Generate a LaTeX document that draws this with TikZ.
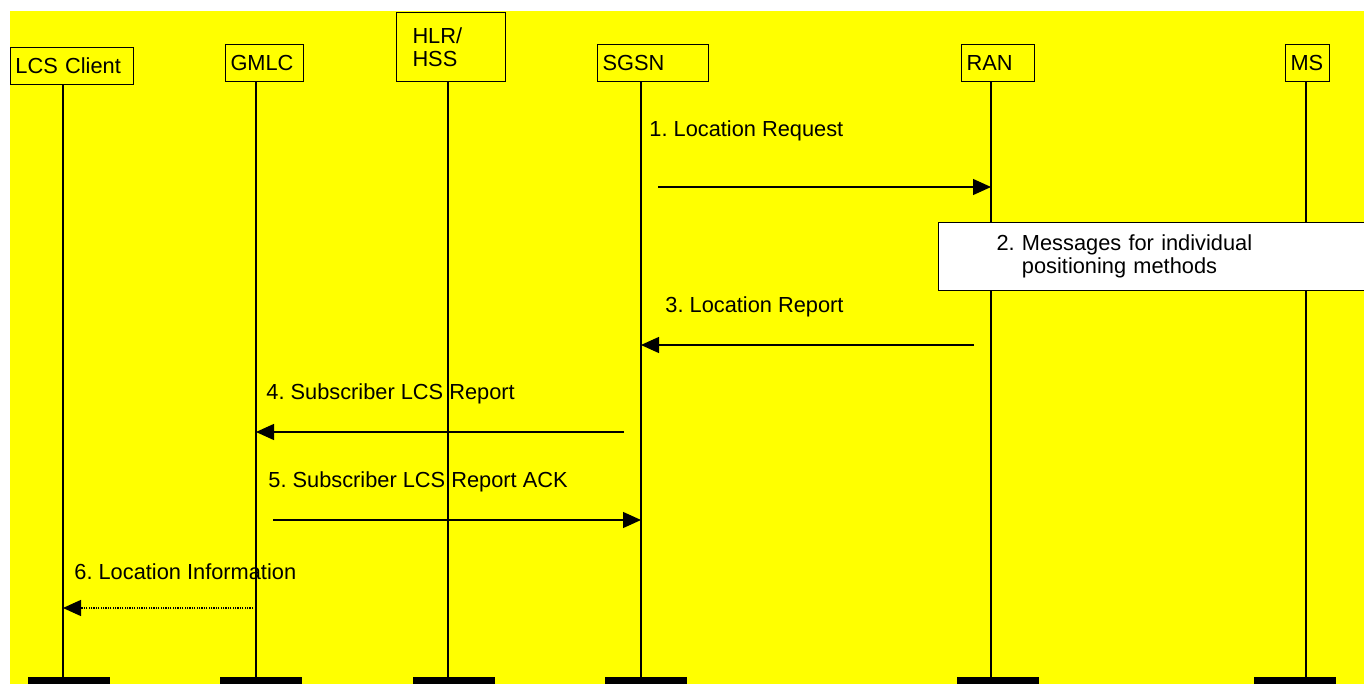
\documentclass[tikz,border=0pt]{standalone}
\usepackage{fontspec}
\setmainfont{Liberation Sans}
\usepackage{tikz}
\usepackage{xcolor}
\usetikzlibrary{arrows.meta}
\definecolor{msyellow}{RGB}{255,255,0}
\tikzset{
  msentity/.style={draw, line width=0.5pt, fill=msyellow, anchor=north west, align=left, inner xsep=2.5pt, minimum height=18.5pt},
  msbar/.style={fill=black, anchor=north west, minimum width=41pt, minimum height=5pt, inner sep=0pt},
  mslife/.style={line width=0.55pt},
  msarr/.style={-{Triangle[length=9pt, width=8pt]}, line width=0.65pt},
  msdot/.style={msarr, dash pattern=on 0.6pt off 0.6pt},
  mslabel/.style={anchor=base west, inner sep=0pt}
}
\frenchspacing

\begin{document}
\begin{tikzpicture}[x=0.5pt, y=-0.5pt, font=\fontsize{10.9}{11.5}\selectfont]
  \useasboundingbox (0,0) rectangle (1364,684);
  \clip (0,0) rectangle (1364,684);
  \fill[msyellow] (10,11) rectangle (1364,684);
  % entities
  \node[msentity, text width=56.5pt] (lcs) at (10,47) {LCS Client};
  \node[msentity, text width=34pt] (gmlc) at (225,44) {GMLC};
  \node[msentity, inner xsep=8pt, text width=38.5pt, minimum height=34.5pt] (hlr) at (396,12) {HLR/\\HSS};
  \node[msentity, text width=50.5pt] (sgsn) at (597,44) {SGSN};
  \node[msentity, text width=31.5pt] (ran) at (961,44) {RAN};
  \node[msentity, text width=17pt] (ms) at (1285,44) {MS};
  % end bars
  \node[msbar] (lcsbar) at (28,677) {};
  \node[msbar] (gmlcbar) at (220,677) {};
  \node[msbar] (hlrbar) at (413,677) {};
  \node[msbar] (sgsnbar) at (605,677) {};
  \node[msbar] (ranbar) at (957,677) {};
  \node[msbar] (msbar) at (1254,677) {};
  % lifelines
  \coordinate (lcsend) at (63,677);
  \coordinate (gmlcend) at (256,677);
  \coordinate (hlrend) at (448,677);
  \coordinate (sgsnend) at (641,677);
  \coordinate (ranend) at (991,677);
  \coordinate (msend) at (1306,677);
  \draw[mslife] (lcsend |- lcs.south) -- (lcsend);
  \draw[mslife] (gmlcend |- gmlc.south) -- (gmlcend);
  \draw[mslife] (hlrend |- hlr.south) -- (hlrend);
  \draw[mslife] (sgsnend |- sgsn.south) -- (sgsnend);
  \draw[mslife] (ranend |- ran.south) -- (ranend);
  \draw[mslife] (msend |- ms.south) -- (msend);
  % positioning box
  \node[msentity, fill=white, inner xsep=29pt, text width=162pt, minimum height=34pt] (posbox) at (938,222) {2.~Messages for individual\\\phantom{2.~}positioning methods};
  % messages
  \node[mslabel] (l1) at (649,137) {1. Location Request};
  \coordinate (m1) at (658,187);
  \draw[msarr] (m1) -- (m1 -| ranend);
  \node[mslabel] (l3) at (665,312) {3. Location Report};
  \coordinate (m3) at (974,345);
  \draw[msarr] (m3) -- (m3 -| sgsnend);
  \node[mslabel] (l4) at (266,399) {4. Subscriber LCS Report};
  \coordinate (m4) at (624,432);
  \draw[msarr] (m4) -- (m4 -| gmlcend);
  \node[mslabel] (l5) at (268,487) {5. Subscriber LCS Report ACK};
  \coordinate (m5) at (273,520);
  \draw[msarr] (m5) -- (m5 -| sgsnend);
  \node[mslabel] (l6) at (74,579) {6. Location Information};
  \coordinate (m6) at (253,608);
  \draw[msdot] (m6) -- (m6 -| lcsend);
\end{tikzpicture}
\end{document}
